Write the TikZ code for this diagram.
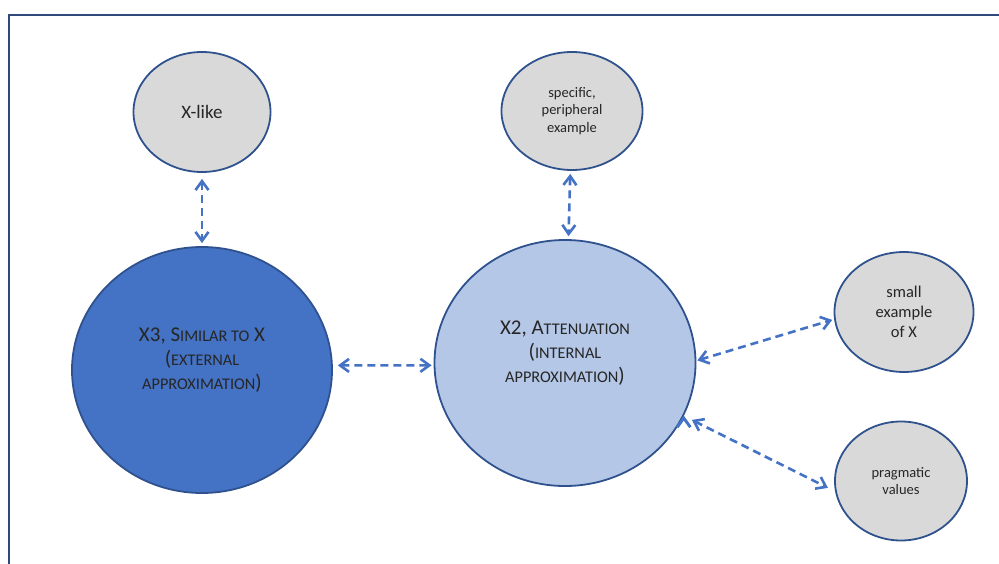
\documentclass[tikz,border=0pt]{standalone}
\usepackage{fontspec}
\setmainfont{Carlito}
\usetikzlibrary{arrows.meta,shapes.geometric,positioning}

\definecolor{frameblue}{HTML}{2F4A7A}
\definecolor{rimblue}{HTML}{2F528F}
\definecolor{darkfill}{HTML}{4472C4}
\definecolor{lightfill}{HTML}{B4C7E7}
\definecolor{greyfill}{HTML}{D9D9D9}
\definecolor{linkblue}{HTML}{4472C4}
\definecolor{inkgrey}{HTML}{262626}

\newcommand{\smc}[1]{{\fontsize{16.3}{24}\selectfont #1}}

\begin{document}
\begin{tikzpicture}[x=1pt,y=-1pt,
		>={Straight Barb[length=9pt,width=13pt]},
		blob/.style={ellipse,draw=rimblue,line width=1.8pt,inner sep=0pt,align=center,text=inkgrey},
		bigtext/.style={font=\fontsize{21}{24}\selectfont,text depth=22pt},
		link/.style={<->,draw=linkblue,line width=2.6pt,dash pattern=on 8pt off 5pt}]
		\useasboundingbox (0,0) rectangle (999,564);
		\draw[frameblue,line width=2pt] (999,15) -- (9,15) -- (9,564);

		\node[blob,fill=darkfill,bigtext,minimum width=260pt,minimum height=246pt] (x_3) at (202,370)
			{X3, S\smc{IMILAR TO} X\\(\smc{EXTERNAL}\\\smc{APPROXIMATION})};
		\node[blob,fill=lightfill,bigtext,minimum width=261pt,minimum height=246pt] (x_2) at (565,363)
			{X2, A\smc{TTENUATION}\\(\smc{INTERNAL}\\\smc{APPROXIMATION})};
		\node[blob,fill=greyfill,font=\fontsize{19}{22}\selectfont,minimum width=137pt,minimum height=120pt] (x_like) at (202,112) {X-like};
		\node[blob,fill=greyfill,font=\fontsize{14.5}{17.5}\selectfont,minimum width=141pt,minimum height=118pt] (ex_spec) at (572,111)
			{specific,\\peripheral\\example};
		\node[blob,fill=greyfill,font=\fontsize{16.5}{20}\selectfont,minimum width=139pt,minimum height=120pt] (ex_small) at (904,312)
			{small\\example\\of X};
		\node[blob,fill=greyfill,font=\fontsize{14.5}{17}\selectfont,minimum width=132pt,minimum height=119pt] (prag) at (901,481)
			{pragmatic\\values};

		\path[link]
			(x_like) edge[shorten <=6pt,shorten >=3pt] (x_3)
			(ex_spec) edge[shorten <=3pt,shorten >=3pt] (x_2)
			(x_3.2) edge[shorten <=5pt,shorten >=2pt] (x_2.181)
			(x_2.1) edge[shorten <=1pt,shorten >=2pt] (ex_small.186)
			(x_2.-24) edge[shorten <=9pt,shorten >=8pt] (prag.189);
	\end{tikzpicture}
\end{document}
